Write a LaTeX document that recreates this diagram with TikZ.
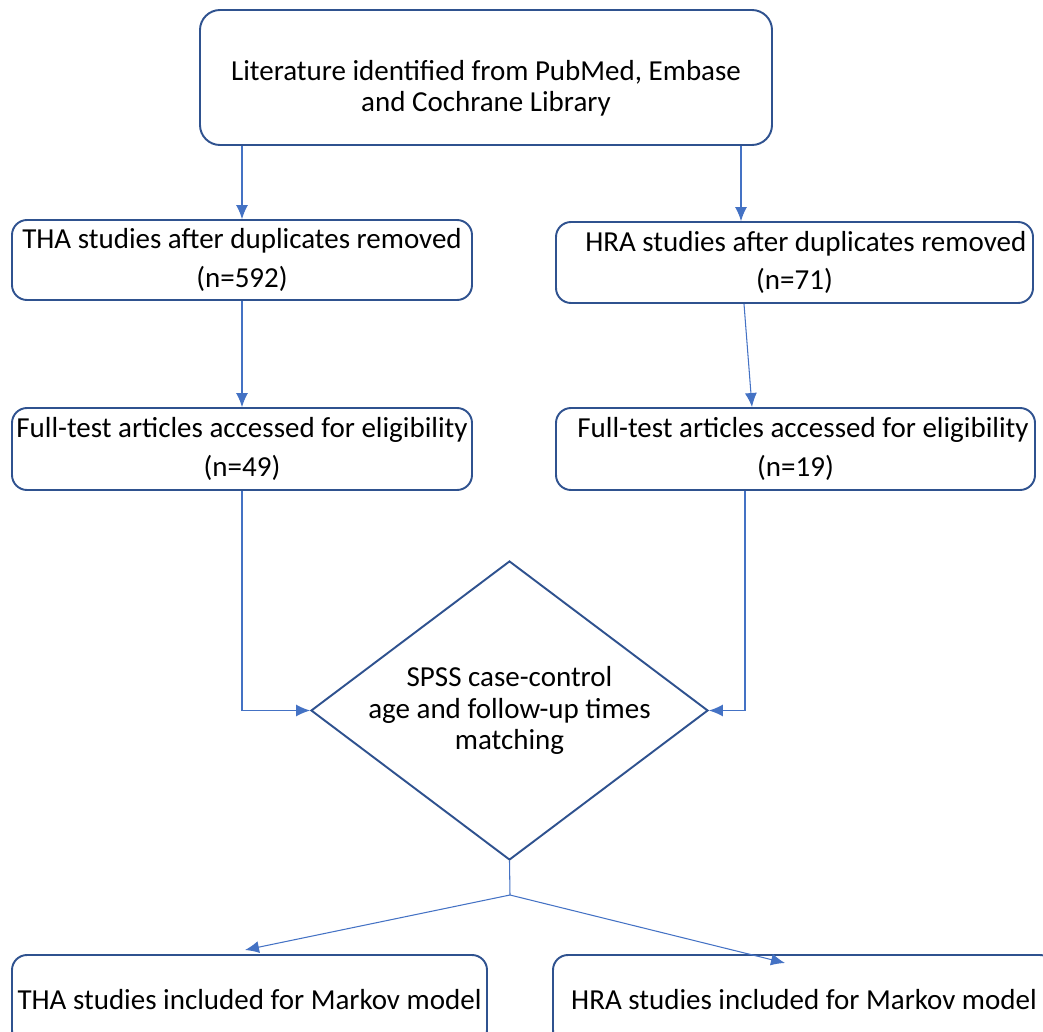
\documentclass[tikz,border=0pt]{standalone}
\usepackage{fontspec}
\setmainfont{Carlito}
\usetikzlibrary{shapes.geometric,arrows.meta,positioning}
\definecolor{boxblue}{RGB}{47,82,143}
\definecolor{arrowblue}{RGB}{68,114,196}

\begin{document}
\begin{tikzpicture}[
    box/.style={draw=boxblue, line width=1.1pt, rounded corners=0.3cm, align=center, inner sep=0pt,
        font=\fontsize{16.5}{22}\selectfont},
    decision/.style={draw=boxblue, line width=1.1pt, diamond, inner sep=0pt,
        minimum width=7.94cm, minimum height=5.98cm},
    arr/.style={arrowblue, line width=0.6pt, -{Latex[length=0.28cm,width=0.24cm]}},
]
    \useasboundingbox (0,0) rectangle (20.86,-20.64);

    % Search box
    \node[box, rounded corners=0.4cm, minimum width=11.44cm, minimum height=2.7cm, text height=1.45cm,
        font=\fontsize{16.5}{17.6}\selectfont] (search) at (9.72,-1.55)
        {Literature identified from PubMed, Embase\\and Cochrane Library};

    % After duplicates removed
    \node[box, minimum width=9.2cm, minimum height=1.6cm] (thadup) at (4.84,-5.2)
        {THA studies after duplicates removed\\(n=592)};
    \node[box, minimum width=9.54cm, minimum height=1.62cm] (hradup) at (15.89,-5.25)
        {\hspace*{0.45cm}HRA studies after duplicates removed\\(n=71)\hspace{2.16cm}};

    % Full-text screening
    \node[box, minimum width=9.2cm, minimum height=1.64cm] (thafull) at (4.84,-8.98)
        {Full-test articles accessed for eligibility\\(n=49)};
    \node[box, minimum width=9.58cm, minimum height=1.64cm] (hrafull) at (15.91,-8.98)
        {\hspace*{0.3cm}Full-test articles accessed for eligibility\\(n=19)\hspace{2.6cm}};

    % Matching step
    \node[decision] (match) at (10.19,-14.21) {};
    \node[align=center, inner sep=0pt, font=\fontsize{16.5}{17.8}\selectfont] (matchtext) at (match.center)
        {SPSS case-control\hspace{0.6cm}\\age and follow-up times\\matching\hspace{0.6cm}};

    % Final boxes (cut by the page edge)
    \node[box, minimum width=9.5cm, minimum height=1.8cm] (thamarkov) at (4.99,-20.0)
        {THA studies included for Markov model};
    \node[box, minimum width=10.04cm, minimum height=1.8cm] (hramarkov) at (16.08,-20.0)
        {HRA studies included for Markov model};

    \coordinate (split) at (10.2,-17.9);
    \coordinate (thaend) at (4.9,-19.0);
    \coordinate (hraend) at (15.7,-19.26);

    % Connectors
    \draw[arr] (thadup.north |- search.south) -- (thadup.north);
    \draw[arr] ([xshift=-1.07cm]hradup.north |- search.south) -- ([xshift=-1.07cm]hradup.north);
    \draw[arr] (thadup.south) -- (thafull.north);
    \draw[arr] ([xshift=-1.01cm]hradup.south) -- ([xshift=-0.87cm]hrafull.north);
    \draw[arr] (thafull.south) |- (match.west);
    \draw[arr] ([xshift=-1.01cm]hrafull.south) |- (match.east);
    \draw[arrowblue, line width=0.6pt] (match.south) -- (split);
    \draw[arr] (split) -- (thaend);
    \draw[arr] (split) -- (hraend);
\end{tikzpicture}
\end{document}
